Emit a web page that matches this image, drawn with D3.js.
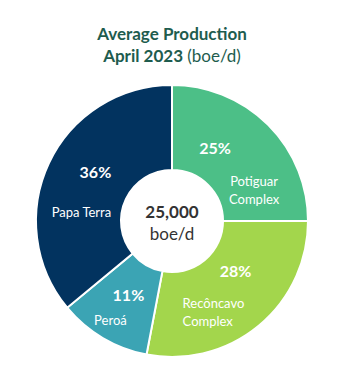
<!DOCTYPE html>
<html>
<head>
<meta charset="utf-8">
<script src="https://cdn.jsdelivr.net/npm/d3@7"></script>
<style>
  body { margin: 0; background: #fff; }
  svg { display: block; font-family: Lato, "Open Sans", sans-serif; }
</style>
</head>
<body>
<svg id="chart" width="343" height="389"></svg>
<script>
// data
const categories = ["Potiguar Complex", "Recôncavo Complex", "Peroá", "Papa Terra"]
const nameLines = [["Potiguar", "Complex"], ["Recôncavo", "Complex"], ["Peroá"], ["Papa Terra"]]
const shares = [25, 28, 11, 36]
const totalValue = "25,000"
const totalUnit = "boe/d"

const colors = ["#4cbf87", "#a3d64c", "#3ba4b4", "#02335f"]
// label nudges from arc centroid: [pctDx, pctDy, nameDx, nameDy, anchor]
const labelNudge = [
  [-23, -7, 16, 27, "middle"],
  [4, -22, -49, 10, "start"],
  [4, -6, -14, 19, "middle"],
  [8, -9, -6, 31, "middle"]
]

const width = 343, height = 389
const cx = 172, cy = 221
const outerR = 136, innerR = 51

const svg = d3.select("#chart")

// title
const title = svg.append("text")
  .attr("x", cx).attr("y", 40)
  .attr("text-anchor", "middle")
  .attr("fill", "#1e5c4e")
  .attr("font-size", 17)
  .attr("font-weight", "bold")
  .text("Average Production")

const sub = svg.append("text")
  .attr("x", cx).attr("y", 62)
  .attr("text-anchor", "middle")
  .attr("fill", "#1e5c4e")
  .attr("font-size", 17)
sub.append("tspan").attr("font-weight", "bold").text("April 2023 ")
sub.append("tspan").text("(boe/d)")

const pie = d3.pie().sort(null).value(d => d)
const arc = d3.arc().innerRadius(innerR).outerRadius(outerR)
const mid = d3.arc().innerRadius(innerR).outerRadius(outerR)

const g = svg.append("g").attr("transform", `translate(${cx},${cy})`)

const slices = g.selectAll("g.slice")
  .data(pie(shares))
  .enter()
  .append("g")
  .attr("class", "slice")

slices.append("path")
  .attr("d", arc)
  .attr("fill", (d, i) => colors[i])
  .attr("stroke", "#fff")
  .attr("stroke-width", 2)

slices.append("text")
  .attr("x", (d, i) => mid.centroid(d)[0] + labelNudge[i][0])
  .attr("y", (d, i) => mid.centroid(d)[1] + labelNudge[i][1])
  .attr("text-anchor", "middle")
  .attr("dy", "0.35em")
  .attr("fill", "#fff")
  .attr("font-size", 16)
  .attr("font-weight", "bold")
  .text(d => d.data + "%")

slices.each(function (d, i) {
  const c = mid.centroid(d)
  const t = d3.select(this).append("text")
    .attr("x", c[0] + labelNudge[i][2])
    .attr("y", c[1] + labelNudge[i][3])
    .attr("text-anchor", labelNudge[i][4])
    .attr("fill", "#fff")
    .attr("font-size", 13)
  nameLines[i].forEach((line, k) => {
    t.append("tspan")
      .attr("x", c[0] + labelNudge[i][2])
      .attr("dy", k === 0 ? "0.35em" : 18)
      .text(line)
  })
})

// center total
g.append("text")
  .attr("y", -3)
  .attr("text-anchor", "middle")
  .attr("fill", "#333")
  .attr("font-size", 17)
  .attr("font-weight", "bold")
  .text(totalValue)

g.append("text")
  .attr("y", 19)
  .attr("text-anchor", "middle")
  .attr("fill", "#333")
  .attr("font-size", 17)
  .text(totalUnit)
</script>
</body>
</html>
